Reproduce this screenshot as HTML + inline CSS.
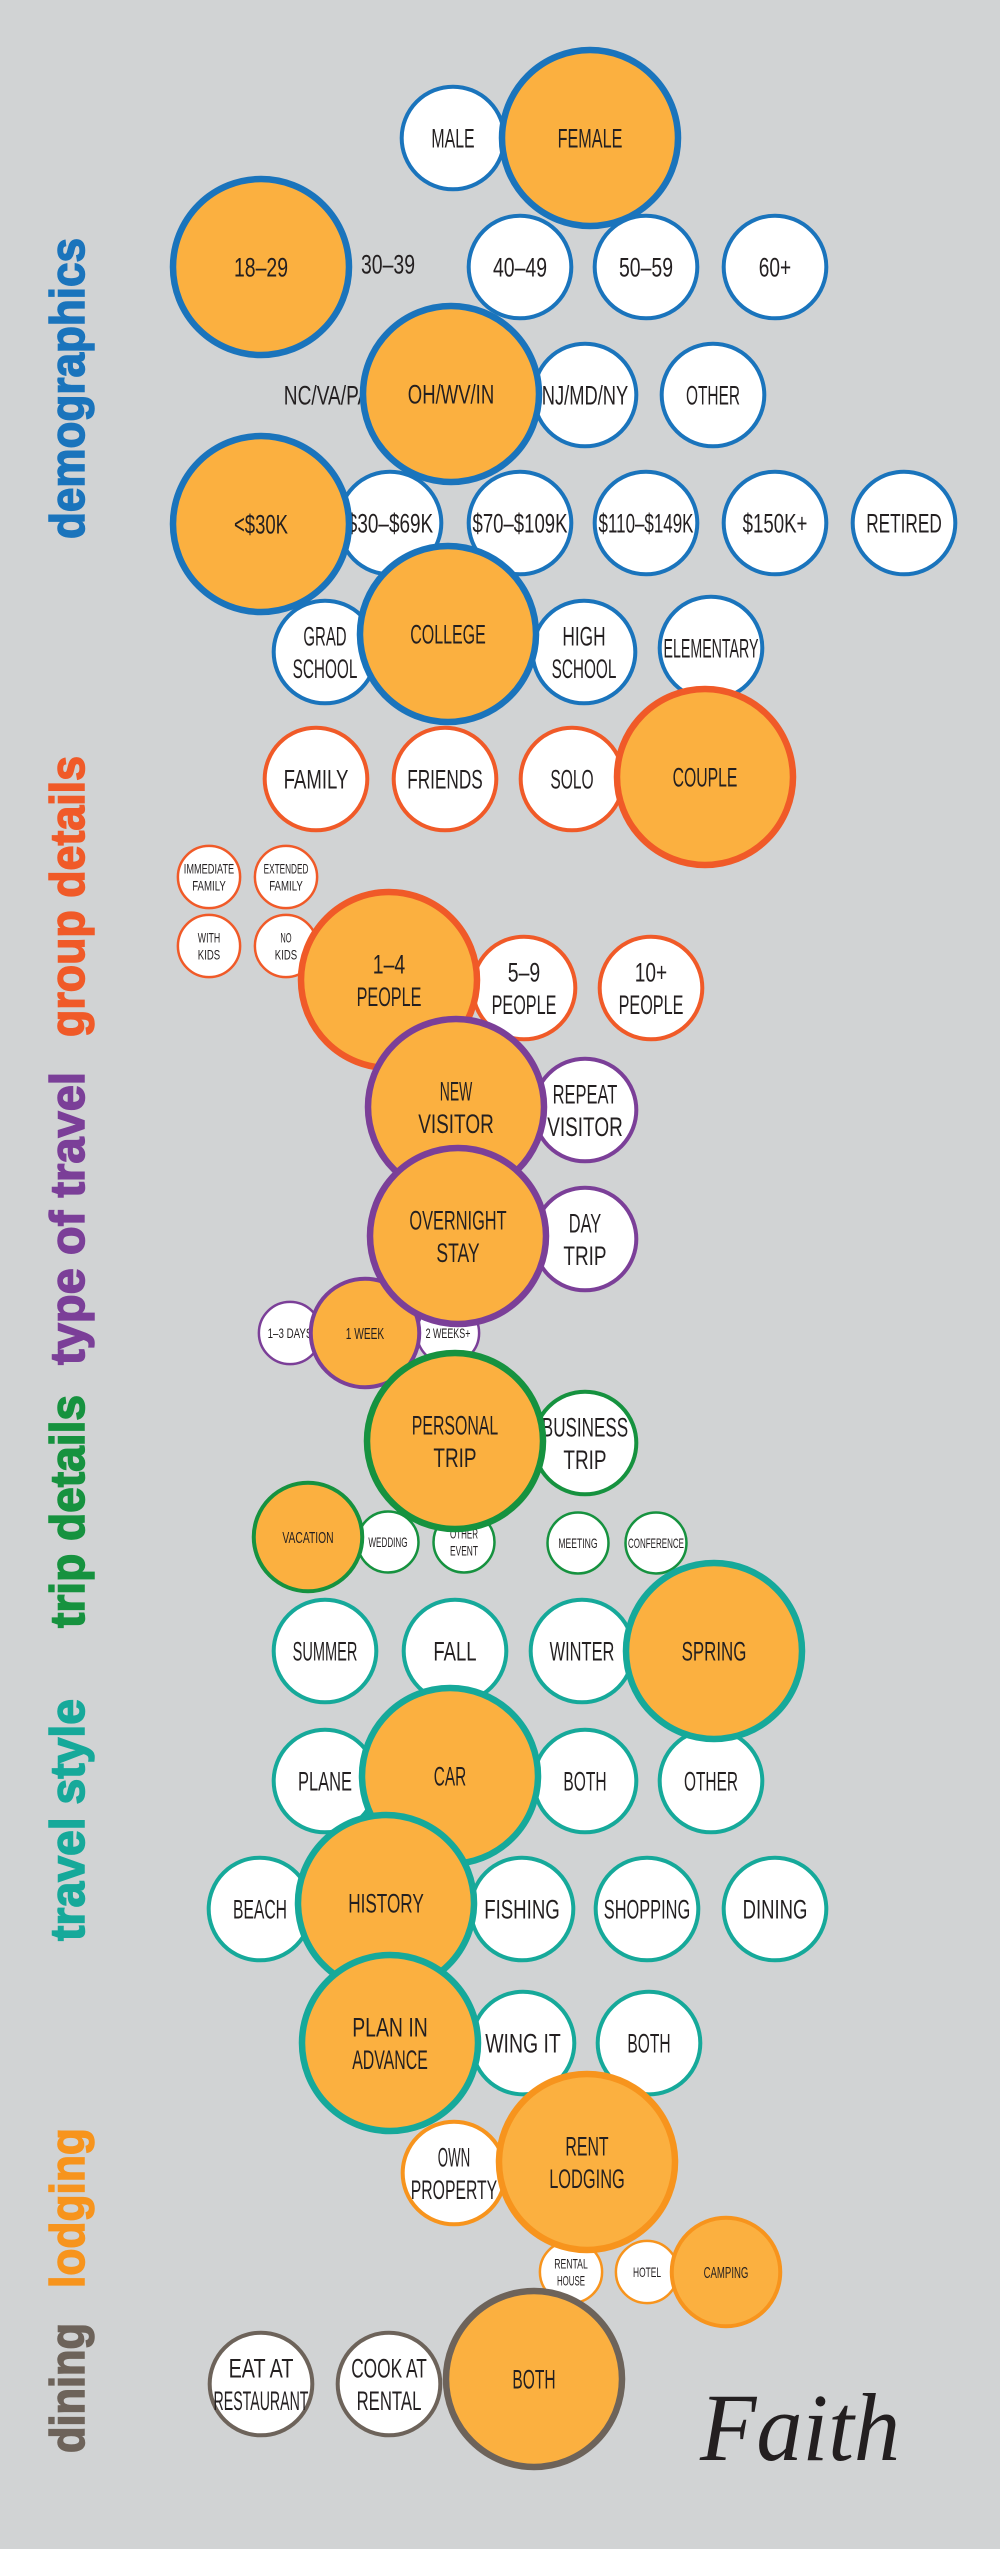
<!DOCTYPE html>
<html><head><meta charset="utf-8">
<style>
html,body{margin:0;padding:0;background:#d1d3d4;}
svg{display:block;}
</style></head>
<body>
<svg id="chart" width="1000" height="2549" viewBox="0 0 1000 2549" xmlns="http://www.w3.org/2000/svg">
<rect width="1000" height="2549" fill="#d1d3d4"/>
<g id="sideLabels"></g>
<g id="bubbles"></g>
<text x="800" y="2460" text-anchor="middle" font-family="Liberation Serif, serif" font-style="italic" font-size="96" fill="#231f20" textLength="200" lengthAdjust="spacingAndGlyphs">Faith</text>
</svg>
<script>
// section names and colours
const sectionNames = ["demographics","group details","type of travel","trip details","travel style","lodging","dining"];
const sectionColors = ["#1a74bc","#f05a28","#7b3f98","#16923f","#16a99a","#f7941d","#6d635a"];
// vertical extent of each section label (y bottom, y top)
const sectionBottom = [539,1037,1365,1628,1941,2288,2453];
const sectionTop = [238,756,1072,1395,1699,2128,2323];

// bubble categories (label, section index), values (response share; 0 = label only), layout (cx, cy)
const labels = ["MALE","FEMALE","18–29","30–39","40–49","50–59","60+","NC/VA/PA","OH/WV/IN","NJ/MD/NY","OTHER",
 "<$30K","$30–$69K","$70–$109K","$110–$149K","$150K+","RETIRED","GRAD|SCHOOL","COLLEGE","HIGH|SCHOOL","ELEMENTARY",
 "FAMILY","FRIENDS","SOLO","COUPLE","IMMEDIATE|FAMILY","EXTENDED|FAMILY","WITH|KIDS","NO|KIDS","1–4|PEOPLE","5–9|PEOPLE","10+|PEOPLE",
 "NEW|VISITOR","REPEAT|VISITOR","OVERNIGHT|STAY","DAY|TRIP","1–3 DAYS","1 WEEK","2 WEEKS+",
 "PERSONAL|TRIP","BUSINESS|TRIP","VACATION","WEDDING","OTHER|EVENT","MEETING","CONFERENCE",
 "SUMMER","FALL","WINTER","SPRING","PLANE","CAR","BOTH","OTHER","BEACH","HISTORY","FISHING","SHOPPING","DINING",
 "PLAN IN|ADVANCE","WING IT","BOTH","OWN|PROPERTY","RENT|LODGING","RENTAL|HOUSE","HOTEL","CAMPING",
 "EAT AT|RESTAURANT","COOK AT|RENTAL","BOTH"];
const sections = [0,0,0,0,0,0,0,0,0,0,0, 0,0,0,0,0,0,0,0,0,0,
 1,1,1,1,1,1,1,1,1,1,1, 2,2,2,2,2,2,2, 3,3,3,3,3,3,3,
 4,4,4,4,4,4,4,4,4,4,4,4,4, 4,4,4, 5,5,5,5,5, 6,6,6];
const values = [34,100,100,0,34,34,34,0,100,34,34, 100,34,34,34,34,34,34,100,34,34,
 34,34,34,100,12.5,12.5,12.5,12.5,100,34,34, 100,34,100,34,12.5,38,12.5,
 100,34,38,12,12,12,12, 34,34,34,100,34,100,34,34,34,100,34,34,34,
 100,34,34,34,100,12.5,12.5,38, 34,34,100];
const posX = [453,590,261,388,520,646,775,327,451,585,713, 261,390,520,646,775,904,325,448,584,711,
 316,445,572,705,209,286,209,286,389,524,651, 456,585,458,585,290,365,448,
 455,585,308,388,464,578,656, 325,455,582,714,325,450,585,711,260,386,522,647,775,
 390,523,649,454,587,571,647,726, 261,389,534];
const posY = [138,138,267,264,267,267,267,395,394,395,395, 524,523,523,523,523,523,652,634,652,648,
 779,779,779,777,877,877,946,946,980,988,988, 1107,1110,1236,1239,1333,1333,1333,
 1441,1443,1537,1542,1542,1543,1543, 1651,1651,1651,1651,1781,1776,1781,1781,1909,1903,1909,1909,1909,
 2043,2043,2043,2173,2162,2272,2272,2272, 2384,2384,2379];
const NS = "http://www.w3.org/2000/svg";
function rScale(v){ return 8.8*Math.sqrt(v); }
const g = document.getElementById('bubbles');
const order = labels.map((_,i)=>i).sort((a,b)=>values[a]-values[b]);
order.forEach(i=>{
  const r = rScale(values[i]);
  const col = sectionColors[sections[i]];
  const big = values[i] >= 37;
  const grp = document.createElementNS(NS,'g');
  
  
  if (r > 0) {
    const c = document.createElementNS(NS,'circle');
    c.setAttribute('cx', posX[i]); c.setAttribute('cy', posY[i]); c.setAttribute('r', r);
    c.setAttribute('fill', big ? '#fbb040' : '#ffffff');
    c.setAttribute('stroke', col);
    c.setAttribute('stroke-width', r > 80 ? 6.5 : (r > 45 ? 4 : 2.5));
    
    
    grp.appendChild(c);
  }
  const lines = labels[i].split('|');
  let fs = 27;
  if (r > 0 && r < 40) fs = 14;
  else if (r >= 40 && r < 60 && big) fs = 16;
  const lh = fs * 1.2;
  lines.forEach((ln, k)=>{
    const t = document.createElementNS(NS,'text');
    const y = posY[i] + (k - (lines.length-1)/2) * lh + fs*0.36;
    t.setAttribute('x', posX[i]); t.setAttribute('y', y);
    t.setAttribute('text-anchor','middle');
    t.setAttribute('font-family','Liberation Sans, sans-serif');
    t.setAttribute('font-size', fs);
    t.setAttribute('fill','#231f20');
    let w = ln.length * fs * 0.4;
    if (r > 0) w = Math.min(w, r * 1.85);
    t.setAttribute('textLength', w);
    t.setAttribute('lengthAdjust','spacingAndGlyphs');
    t.textContent = ln;
    
    
    grp.appendChild(t);
  });
  g.appendChild(grp);
});
const sl = document.getElementById('sideLabels');
sectionNames.forEach((n,i)=>{
  const t = document.createElementNS(NS,'text');
  const yb = sectionBottom[i], yt = sectionTop[i];
  t.setAttribute('transform', 'translate(84,' + yb + ') rotate(-90)');
  t.setAttribute('font-family','Liberation Sans, sans-serif');
  t.setAttribute('font-weight','bold');
  t.setAttribute('font-size', 48);
  t.setAttribute('stroke', sectionColors[i]);
  t.setAttribute('stroke-width', 1.5);
  t.setAttribute('fill', sectionColors[i]);
  t.setAttribute('textLength', yb - yt);
  t.setAttribute('lengthAdjust','spacingAndGlyphs');
  t.textContent = n;
  
  
  sl.appendChild(t);
});
</script>
</body></html>
